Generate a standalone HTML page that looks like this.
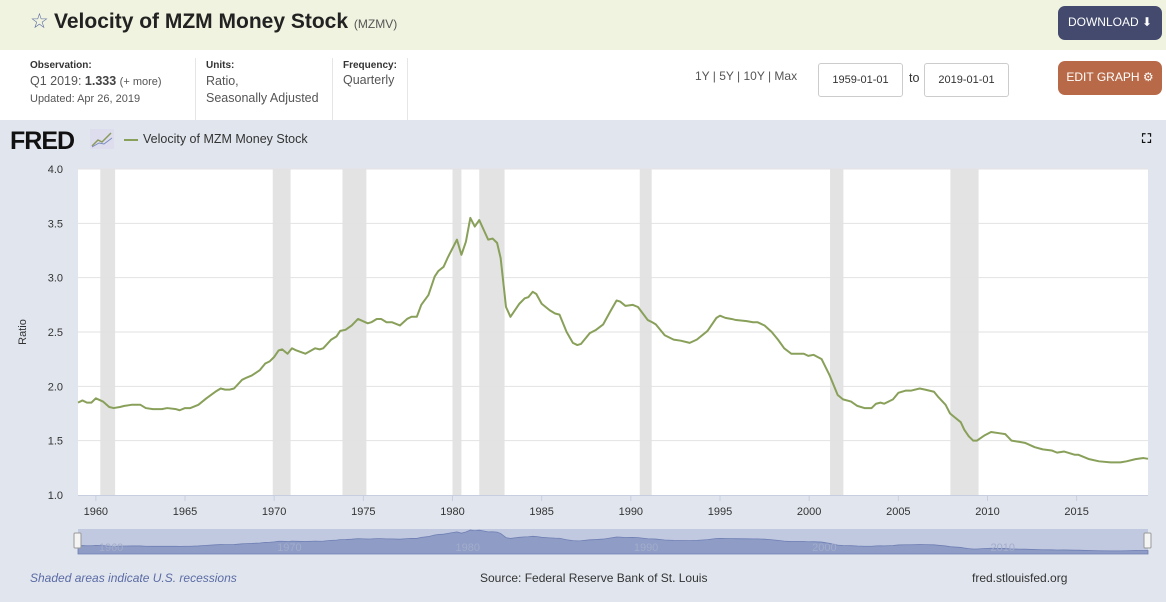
<!DOCTYPE html>
<html><head><meta charset="utf-8">
<style>
body{margin:0;width:1166px;height:602px;overflow:hidden;font-family:"Liberation Sans",sans-serif;background:#e1e6ee;position:relative}
.abs{position:absolute}
#hdr{left:0;top:0;width:1166px;height:50px;background:#eff3df}
#info{left:0;top:50px;width:1166px;height:70px;background:#fff}
.lbl{font-size:10px;color:#333;font-weight:bold}
.val{font-size:12.5px;color:#555}
.btn{color:#fff;font-size:12px;border-radius:7px;text-align:center;line-height:33px}
.inp{border:1px solid #ccc;border-radius:3px;width:83px;height:32px;font-size:11px;color:#333;line-height:32px;text-align:center;background:#fff}
</style></head><body>
<div id="hdr" class="abs">
 <div class="abs" style="left:30px;top:9px;font-size:21px;color:#5b6ba5">☆</div>
 <div class="abs" style="left:54px;top:10px;font-size:21px;font-weight:bold;color:#222">Velocity of MZM Money Stock <span style="font-size:12px;color:#555;font-weight:normal">(MZMV)</span></div>
 <div class="abs btn" style="left:1058px;top:6px;width:104px;height:34px;background:#434a6e">DOWNLOAD ⬇</div>
</div>
<div id="info" class="abs">
 <div class="abs lbl" style="left:30px;top:10px">Observation:</div>
 <div class="abs val" style="left:30px;top:24px">Q1 2019: <b style="color:#444">1.333</b> <span style="font-size:11px">(+ more)</span></div>
 <div class="abs val" style="left:30px;top:43px;font-size:11px">Updated: Apr 26, 2019</div>
 <div class="abs" style="left:195px;top:8px;width:1px;height:62px;background:#e6e6e6"></div>
 <div class="abs lbl" style="left:206px;top:10px">Units:</div>
 <div class="abs val" style="left:206px;top:23px;line-height:17px">Ratio,<br>Seasonally Adjusted</div>
 <div class="abs" style="left:332px;top:8px;width:1px;height:62px;background:#e6e6e6"></div>
 <div class="abs lbl" style="left:343px;top:10px">Frequency:</div>
 <div class="abs val" style="left:343px;top:23px">Quarterly</div>
 <div class="abs" style="left:407px;top:8px;width:1px;height:62px;background:#e6e6e6"></div>
 <div class="abs val" style="left:695px;top:19px;font-size:12px">1Y | 5Y | 10Y | Max</div>
 <div class="abs inp" style="left:818px;top:13px">1959-01-01</div>
 <div class="abs val" style="left:909px;top:21px;color:#333" >to</div>
 <div class="abs inp" style="left:924px;top:13px">2019-01-01</div>
 <div class="abs btn" style="left:1058px;top:11px;width:104px;height:34px;background:#b86a48">EDIT GRAPH ⚙</div>
</div>
<div class="abs" style="left:10px;top:127px;font-size:25px;font-weight:900;color:#111;letter-spacing:-1px">FRED</div>
<svg class="abs" style="left:90px;top:129px" width="24" height="20"><rect width="24" height="20" fill="#dde"/><polyline points="2,17 8,11 12,13 21,4" fill="none" stroke="#8a9a5b" stroke-width="1.5"/><polyline points="2,18 9,14 14,15 22,9" fill="none" stroke="#7a8cc0" stroke-width="1"/></svg>
<div class="abs" style="left:124px;top:139px;width:14px;height:2px;background:#89a05a"></div>
<div class="abs" style="left:143px;top:132px;font-size:12.5px;color:#333">Velocity of MZM Money Stock</div>
<div class="abs" style="left:1142px;top:131px;font-size:13px;font-weight:bold;color:#111">⛶</div>
<div class="abs" style="left:30px;top:571px;font-size:12px;font-style:italic;color:#5b6ba5">Shaded areas indicate U.S. recessions</div>
<div class="abs" style="left:480px;top:571px;font-size:12px;color:#333">Source: Federal Reserve Bank of St. Louis</div>
<div class="abs" style="left:972px;top:571px;font-size:12px;color:#333">fred.stlouisfed.org</div>
<svg id="chart" class="abs" style="left:0;top:0" width="1166" height="602"></svg>
<script>
const dates=[1959.0,1959.25,1959.5,1959.75,1960.0,1960.4,1960.75,1961.0,1961.35,1961.6,1962.0,1962.3,1962.5,1962.8,1963.2,1963.5,1963.7,1964.0,1964.5,1964.7,1965.0,1965.3,1965.75,1966.2,1966.7,1967.0,1967.25,1967.5,1967.75,1968.2,1968.45,1968.75,1969.2,1969.5,1969.75,1970.0,1970.25,1970.45,1970.75,1971.0,1971.25,1971.75,1972.3,1972.55,1972.75,1973.2,1973.5,1973.7,1974.0,1974.35,1974.7,1975.25,1975.45,1975.75,1976.0,1976.3,1976.6,1977.05,1977.45,1977.7,1978.0,1978.25,1978.65,1979.0,1979.2,1979.5,1979.75,1980.25,1980.5,1980.75,1981.0,1981.25,1981.5,1981.75,1982.0,1982.25,1982.5,1982.7,1983.0,1983.25,1983.75,1984.05,1984.25,1984.5,1984.7,1985.0,1985.45,1985.75,1986.0,1986.4,1986.75,1987.0,1987.2,1987.7,1988.05,1988.45,1988.85,1989.2,1989.4,1989.7,1990.1,1990.4,1990.95,1991.2,1991.4,1991.9,1992.4,1992.8,1993.3,1993.7,1994.3,1994.8,1995.0,1995.3,1995.65,1995.9,1996.5,1996.85,1997.1,1997.5,1997.9,1998.25,1998.6,1999.0,1999.3,1999.7,1999.95,2000.25,2000.7,2001.15,2001.6,2001.9,2002.35,2002.7,2003.1,2003.5,2003.75,2004.0,2004.2,2004.7,2005.0,2005.4,2005.7,2006.2,2006.5,2007.0,2007.25,2007.65,2007.9,2008.2,2008.5,2008.7,2008.95,2009.2,2009.4,2009.85,2010.2,2010.6,2011.0,2011.35,2011.75,2012.1,2012.65,2013.1,2013.6,2013.9,2014.3,2014.9,2015.1,2015.7,2016.25,2016.9,2017.45,2017.8,2018.3,2018.75,2019.0];
const values=[1.85,1.87,1.85,1.85,1.89,1.86,1.81,1.80,1.81,1.82,1.83,1.83,1.83,1.80,1.79,1.79,1.79,1.80,1.79,1.78,1.80,1.80,1.83,1.89,1.95,1.98,1.97,1.97,1.98,2.06,2.08,2.10,2.15,2.21,2.23,2.27,2.33,2.34,2.30,2.35,2.33,2.30,2.35,2.34,2.35,2.43,2.46,2.51,2.52,2.56,2.62,2.58,2.59,2.62,2.62,2.59,2.59,2.56,2.62,2.64,2.64,2.75,2.84,3.01,3.06,3.10,3.19,3.35,3.21,3.33,3.55,3.47,3.53,3.44,3.35,3.36,3.32,3.18,2.73,2.64,2.76,2.81,2.82,2.87,2.85,2.76,2.70,2.67,2.66,2.50,2.40,2.38,2.39,2.49,2.52,2.57,2.69,2.79,2.78,2.74,2.75,2.73,2.61,2.59,2.57,2.47,2.43,2.42,2.40,2.43,2.51,2.63,2.65,2.63,2.62,2.61,2.60,2.59,2.59,2.56,2.50,2.43,2.35,2.30,2.30,2.30,2.28,2.29,2.25,2.10,1.92,1.88,1.86,1.82,1.80,1.80,1.84,1.85,1.84,1.88,1.94,1.96,1.96,1.98,1.97,1.95,1.90,1.83,1.75,1.71,1.67,1.60,1.54,1.50,1.50,1.55,1.58,1.57,1.56,1.50,1.49,1.48,1.44,1.42,1.41,1.39,1.40,1.37,1.37,1.33,1.31,1.30,1.30,1.31,1.33,1.34,1.333];
const recStart=[1960.25,1969.92,1973.83,1980.0,1981.5,1990.5,2001.17,2007.92];
const recEnd=[1961.08,1970.92,1975.17,1980.5,1982.92,1991.17,2001.92,2009.5];
const yTicks=[1.0,1.5,2.0,2.5,3.0,3.5,4.0];
const xTicks=[1960,1965,1970,1975,1980,1985,1990,1995,2000,2005,2010,2015];
const navLabels=[1960,1970,1980,1990,2000,2010];
const NS='http://www.w3.org/2000/svg';
const svg=document.getElementById('chart');
const L=78,R=1148,T=169,B=495,x0=1959,x1=2019,y0=1,y1=4;
const X=t=>L+(t-x0)/(x1-x0)*(R-L);
const Y=v=>B-(v-y0)/(y1-y0)*(B-T);
function mk(tag,a,parent){const e=document.createElementNS(NS,tag);for(const k in a)e.setAttribute(k,a[k]);(parent||svg).appendChild(e);return e;}
const plot=mk('rect',{x:L,y:T,width:R-L,height:B-T,fill:'#fff'});


recStart.forEach((s,i)=>{const r=mk('rect',{x:X(s),y:T,width:X(recEnd[i])-X(s),height:B-T,fill:'#e3e3e3'});

});
yTicks.forEach(v=>{if(v>1){const g=mk('line',{x1:L,x2:R,y1:Y(v),y2:Y(v),stroke:'#e2e2e2','stroke-width':1});

}
const t=mk('text',{x:L-15,y:Y(v)+4,'text-anchor':'end','font-size':11,fill:'#333','font-family':'Liberation Sans'});t.textContent=v.toFixed(1);

});
const ax=mk('line',{x1:L,x2:R,y1:B+0.5,y2:B+0.5,stroke:'#c8cde0'});


xTicks.forEach(t=>{mk('line',{x1:X(t),x2:X(t),y1:B,y2:B+6,stroke:'#c8cde0'});
const l=mk('text',{x:X(t),y:B+20,'text-anchor':'middle','font-size':11,fill:'#333','font-family':'Liberation Sans'});l.textContent=t;

});
const yt=mk('text',{x:26,y:Y(2.5),'text-anchor':'middle','font-size':11,fill:'#333','font-family':'Liberation Sans',transform:`rotate(-90 26 ${Y(2.5)})`});yt.textContent='Ratio';


const pl=mk('polyline',{points:dates.map((d,i)=>X(d)+','+Y(values[i])).join(' '),fill:'none',stroke:'#89a05a','stroke-width':2,'stroke-linejoin':'round'});


// navigator
const NT=529,NB=554;
const nbg=mk('rect',{x:L,y:NT,width:R-L,height:NB-NT,fill:'#c1c9e0'});


const NY=v=>NB-(v-1.0)/(3.6-1.0)*(NB-NT-2)-0;
const na=mk('path',{d:'M'+X(dates[0])+','+NB+' '+dates.map((d,i)=>'L'+X(d)+','+(NB-2-(values[i]-1.5)/(3.55-1.5)*(NB-NT-6)-3)).join(' ')+' L'+X(2019)+','+NB+' Z',fill:'#8e9cc6',stroke:'#6f7fb3','stroke-width':0.8});


navLabels.forEach(t=>{const l=mk('text',{x:X(t)+3,y:NB-3,'font-size':11,fill:'#a3acca','font-family':'Liberation Sans'});l.textContent=t;

});
[L-1,R-1].forEach(hx=>{const h=mk('rect',{x:hx-3,y:NT+4,width:7,height:15,fill:'#f4f4f4',stroke:'#999','stroke-width':1,rx:1});

});
</script>
</body></html>
